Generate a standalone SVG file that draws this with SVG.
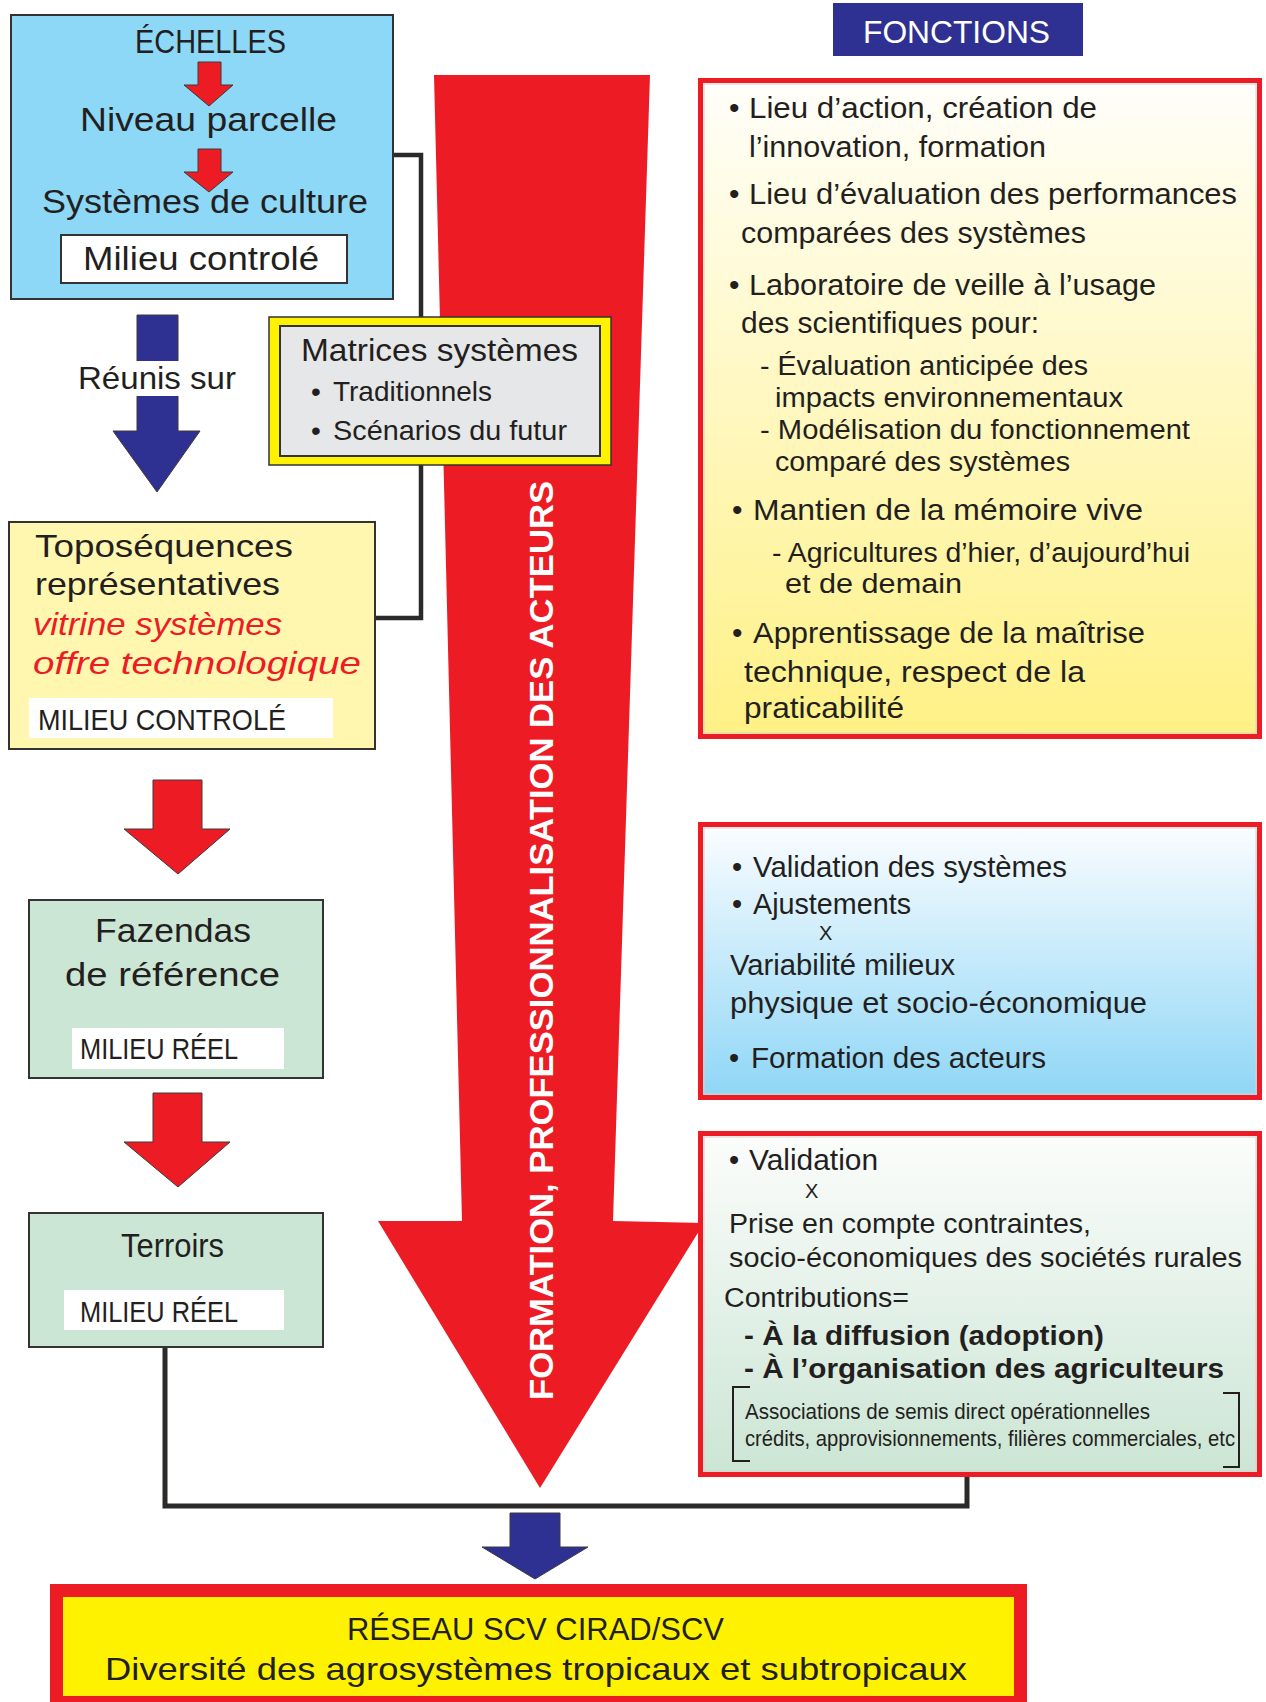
<svg xmlns="http://www.w3.org/2000/svg" width="1266" height="1702" viewBox="0 0 1266 1702">
  <style>
    text { font-family: "Liberation Sans", Arial, sans-serif; fill: #231f20; }
    .t34 { font-size: 34px; }
    .t32 { font-size: 32px; }
    .t30 { font-size: 30px; }
    .t29 { font-size: 29px; }
    .t28 { font-size: 28px; }
    .t27 { font-size: 27px; }
    .t22 { font-size: 22px; }
    .t20 { font-size: 20px; }
    .bold { font-weight: bold; }
    .red { fill: #ed1c24; font-style: italic; }
    .white { fill: #ffffff; }
    .node { stroke: #333333; stroke-width: 2; }
    .label { fill: #ffffff; }
    .redarrow { fill: #ed1c24; stroke: #3a3a3a; stroke-width: 1; }
    .bluearrow { fill: #2e3192; stroke: #3a3a3a; stroke-width: 1; }
    .frame { stroke: #ed1c24; stroke-width: 5; }
    .inner { fill: none; stroke: #d8d0c8; stroke-width: 1; }
    .link { fill: none; stroke: #2b2a29; stroke-linejoin: miter; }
  </style>
  <defs>
    <linearGradient id="gYellow" x1="0" y1="0" x2="0" y2="1">
      <stop offset="0" stop-color="#fffefa"/>
      <stop offset="1" stop-color="#fff185"/>
    </linearGradient>
    <linearGradient id="gBlue" x1="0" y1="0" x2="0" y2="1">
      <stop offset="0" stop-color="#fbfdff"/>
      <stop offset="1" stop-color="#8ed6f6"/>
    </linearGradient>
    <linearGradient id="gGreen" x1="0" y1="0" x2="0" y2="1">
      <stop offset="0" stop-color="#fcfdfc"/>
      <stop offset="1" stop-color="#cbe5d4"/>
    </linearGradient>
  </defs>

  <rect width="1266" height="1702" fill="#ffffff"/>

  <!-- Large downward arrow with vertical caption -->
  <g id="formation-arrow">
    <path d="M434,75 L650,75 L613,1221 L704,1223 L540,1488 L378,1221 L462,1221 Z" fill="#ed1c24"/>
    <text class="white bold" font-size="33" transform="translate(553,1400) rotate(-90)" textLength="919" lengthAdjust="spacingAndGlyphs">FORMATION, PROFESSIONNALISATION DES ACTEURS</text>
  </g>

  <!-- Connectors -->
  <g id="connectors">
    <path class="link" stroke-width="4.5" d="M393,155 H421 V618 H375"/>
    <path class="link" stroke-width="5" d="M165,1347 V1506 H967 V1474"/>
    <path class="bluearrow" d="M510,1513 H560 V1547 H588 L535,1579 L482,1547 H510 Z"/>
  </g>

  <!-- Scales box -->
  <g id="echelles">
    <rect class="node" x="11" y="15" width="382" height="284" fill="#8dd7f7"/>
    <text class="t34" x="135" y="53" textLength="151" lengthAdjust="spacingAndGlyphs">ÉCHELLES</text>
    <path class="redarrow" d="M198,62 H221 V85 H233 L209,106 L184,85 H198 Z"/>
    <text class="t34" x="80" y="131" textLength="257" lengthAdjust="spacingAndGlyphs">Niveau parcelle</text>
    <path class="redarrow" d="M198,149 H221 V172 H233 L209,192 L184,172 H198 Z"/>
    <text class="t34" x="42" y="213" textLength="326" lengthAdjust="spacingAndGlyphs">Systèmes de culture</text>
    <rect class="node" x="61" y="235" width="286" height="48" fill="#ffffff"/>
    <text class="t34" x="83" y="270" textLength="236" lengthAdjust="spacingAndGlyphs">Milieu controlé</text>
  </g>

  <!-- Gathering arrow -->
  <g id="reunis">
    <path class="bluearrow" d="M137,315 H178 V431 H200 L157,492 L113,431 H137 Z"/>
    <rect x="76" y="361" width="162" height="35" fill="#ffffff"/>
    <text class="t32" x="78" y="389" textLength="158" lengthAdjust="spacingAndGlyphs">Réunis sur</text>
  </g>

  <!-- System matrices -->
  <g id="matrices">
    <rect x="269" y="317" width="342" height="148" fill="#fff200" stroke="#333333" stroke-width="1.5"/>
    <rect class="node" x="280" y="326" width="320" height="130" fill="#e6e7e8"/>
    <text class="t32" x="301" y="361" textLength="277" lengthAdjust="spacingAndGlyphs">Matrices systèmes</text>
    <text class="t28" x="311" y="401">•</text>
    <text class="t28" x="333" y="401" textLength="159" lengthAdjust="spacingAndGlyphs">Traditionnels</text>
    <text class="t28" x="311" y="440">•</text>
    <text class="t28" x="333" y="440" textLength="234" lengthAdjust="spacingAndGlyphs">Scénarios du futur</text>
  </g>

  <!-- Toposequences -->
  <g id="toposequences">
    <rect class="node" x="9" y="522" width="366" height="227" fill="#fff7b0"/>
    <text class="t32" x="35" y="557" textLength="258" lengthAdjust="spacingAndGlyphs">Toposéquences</text>
    <text class="t32" x="35" y="595" textLength="245" lengthAdjust="spacingAndGlyphs">représentatives</text>
    <text class="t32 red" x="33" y="635" textLength="249" lengthAdjust="spacingAndGlyphs">vitrine systèmes</text>
    <text class="t32 red" x="33" y="674" textLength="328" lengthAdjust="spacingAndGlyphs">offre technologique</text>
    <rect x="29" y="698" width="304" height="40" fill="#ffffff"/>
    <text class="t29" x="38" y="730" textLength="248" lengthAdjust="spacingAndGlyphs">MILIEU CONTROLÉ</text>
  </g>

  <path id="arrow-fazendas" class="redarrow" d="M153,780 H202 V829 H230 L178,874 L124,829 H153 Z"/>

  <!-- Reference farms -->
  <g id="fazendas">
    <rect class="node" x="29" y="900" width="294" height="178" fill="#cce6d6"/>
    <text class="t34" x="95" y="942" textLength="156" lengthAdjust="spacingAndGlyphs">Fazendas</text>
    <text class="t34" x="65" y="986" textLength="215" lengthAdjust="spacingAndGlyphs">de référence</text>
    <rect x="72" y="1028" width="212" height="41" fill="#ffffff"/>
    <text class="t29" x="80" y="1059" textLength="158" lengthAdjust="spacingAndGlyphs">MILIEU RÉEL</text>
  </g>

  <path id="arrow-terroirs" class="redarrow" d="M153,1093 H202 V1142 H230 L178,1187 L124,1142 H153 Z"/>

  <!-- Terroirs -->
  <g id="terroirs">
    <rect class="node" x="29" y="1213" width="294" height="134" fill="#cce6d6"/>
    <text class="t34" x="121" y="1257" textLength="103" lengthAdjust="spacingAndGlyphs">Terroirs</text>
    <rect x="64" y="1290" width="220" height="40" fill="#ffffff"/>
    <text class="t29" x="80" y="1322" textLength="158" lengthAdjust="spacingAndGlyphs">MILIEU RÉEL</text>
  </g>

  <!-- Functions header -->
  <g id="fonctions">
    <rect x="833" y="3" width="250" height="53" fill="#2e3192"/>
    <text class="t32 label" x="863" y="43" textLength="187" lengthAdjust="spacingAndGlyphs">FONCTIONS</text>
  </g>

  <!-- Functions of the toposequences -->
  <g id="fonctions-topo">
    <rect class="frame" x="700.5" y="80.5" width="559" height="656" fill="url(#gYellow)"/>
    <rect class="inner" x="704" y="84" width="552" height="649"/>
    <text class="t30" x="729" y="118">•</text>
    <text class="t30" x="749" y="118" textLength="348" lengthAdjust="spacingAndGlyphs">Lieu d’action, création de</text>
    <text class="t30" x="749" y="157" textLength="297" lengthAdjust="spacingAndGlyphs">l’innovation, formation</text>
    <text class="t30" x="729" y="204">•</text>
    <text class="t30" x="749" y="204" textLength="488" lengthAdjust="spacingAndGlyphs">Lieu d’évaluation des performances</text>
    <text class="t30" x="741" y="243" textLength="345" lengthAdjust="spacingAndGlyphs">comparées des systèmes</text>
    <text class="t30" x="729" y="295">•</text>
    <text class="t30" x="749" y="295" textLength="407" lengthAdjust="spacingAndGlyphs">Laboratoire de veille à l’usage</text>
    <text class="t30" x="741" y="333" textLength="298" lengthAdjust="spacingAndGlyphs">des scientifiques pour:</text>
    <text class="t27" x="760" y="375" textLength="328" lengthAdjust="spacingAndGlyphs">- Évaluation anticipée des</text>
    <text class="t27" x="775" y="407" textLength="348" lengthAdjust="spacingAndGlyphs">impacts environnementaux</text>
    <text class="t27" x="760" y="439" textLength="430" lengthAdjust="spacingAndGlyphs">- Modélisation du fonctionnement</text>
    <text class="t27" x="775" y="471" textLength="295" lengthAdjust="spacingAndGlyphs">comparé des systèmes</text>
    <text class="t30" x="732" y="520">•</text>
    <text class="t30" x="753" y="520" textLength="390" lengthAdjust="spacingAndGlyphs">Mantien de la mémoire vive</text>
    <text class="t27" x="772" y="562" textLength="418" lengthAdjust="spacingAndGlyphs">- Agricultures d’hier, d’aujourd’hui</text>
    <text class="t27" x="785" y="593" textLength="177" lengthAdjust="spacingAndGlyphs">et de demain</text>
    <text class="t30" x="732" y="643">•</text>
    <text class="t30" x="753" y="643" textLength="392" lengthAdjust="spacingAndGlyphs">Apprentissage de la maîtrise</text>
    <text class="t30" x="744" y="682" textLength="341" lengthAdjust="spacingAndGlyphs">technique, respect de la</text>
    <text class="t30" x="744" y="718" textLength="160" lengthAdjust="spacingAndGlyphs">praticabilité</text>
  </g>

  <!-- Functions of the reference farms -->
  <g id="fonctions-fazendas">
    <rect class="frame" x="700.5" y="824.5" width="559" height="273" fill="url(#gBlue)"/>
    <rect class="inner" x="704" y="828" width="552" height="266"/>
    <text class="t29" x="732" y="877">•</text>
    <text class="t29" x="753" y="877" textLength="314" lengthAdjust="spacingAndGlyphs">Validation des systèmes</text>
    <text class="t29" x="732" y="914">•</text>
    <text class="t29" x="753" y="914" textLength="158" lengthAdjust="spacingAndGlyphs">Ajustements</text>
    <text class="t20" x="819" y="940">X</text>
    <text class="t29" x="730" y="975" textLength="225" lengthAdjust="spacingAndGlyphs">Variabilité milieux</text>
    <text class="t29" x="730" y="1013" textLength="417" lengthAdjust="spacingAndGlyphs">physique et socio-économique</text>
    <text class="t29" x="729" y="1068">•</text>
    <text class="t29" x="751" y="1068" textLength="295" lengthAdjust="spacingAndGlyphs">Formation des acteurs</text>
  </g>

  <!-- Functions of the terroirs -->
  <g id="fonctions-terroirs">
    <rect class="frame" x="700.5" y="1133.5" width="559" height="341" fill="url(#gGreen)"/>
    <rect class="inner" x="704" y="1137" width="552" height="334"/>
    <text class="t29" x="729" y="1170">•</text>
    <text class="t29" x="749" y="1170" textLength="129" lengthAdjust="spacingAndGlyphs">Validation</text>
    <text class="t20" x="805" y="1198">X</text>
    <text class="t28" x="729" y="1233" textLength="362" lengthAdjust="spacingAndGlyphs">Prise en compte contraintes,</text>
    <text class="t28" x="729" y="1267" textLength="513" lengthAdjust="spacingAndGlyphs">socio-économiques des sociétés rurales</text>
    <text class="t27" x="724" y="1307" textLength="185" lengthAdjust="spacingAndGlyphs">Contributions=</text>
    <text class="t28 bold" x="744" y="1345" textLength="360" lengthAdjust="spacingAndGlyphs">- À la diffusion (adoption)</text>
    <text class="t28 bold" x="744" y="1378" textLength="480" lengthAdjust="spacingAndGlyphs">- À l’organisation des agriculteurs</text>
    <path d="M750,1387 H733 V1461 H750 M1223,1393 H1239 V1467 H1223" fill="none" stroke="#231f20" stroke-width="2"/>
    <text class="t22" x="745" y="1419" textLength="405" lengthAdjust="spacingAndGlyphs">Associations de semis direct opérationnelles</text>
    <text class="t22" x="745" y="1446" textLength="490" lengthAdjust="spacingAndGlyphs">crédits, approvisionnements, filières commerciales, etc</text>
  </g>

  <!-- Network box -->
  <g id="reseau">
    <rect x="50" y="1584" width="977" height="118" fill="#ed1c24"/>
    <rect x="63" y="1597" width="951" height="99" fill="#fff200"/>
    <text class="t32" x="347" y="1640" textLength="377" lengthAdjust="spacingAndGlyphs">RÉSEAU SCV CIRAD/SCV</text>
    <text class="t32" x="105" y="1680" textLength="862" lengthAdjust="spacingAndGlyphs">Diversité des agrosystèmes tropicaux et subtropicaux</text>
  </g>
</svg>
